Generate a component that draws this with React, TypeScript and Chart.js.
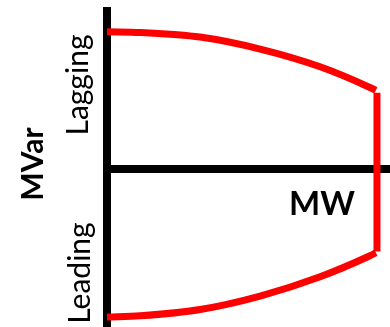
import React, { useEffect, useRef } from "react";
import { Chart, registerables } from "chart.js";

Chart.register(...registerables);

// Capability curve data (per-unit)
const mwCurve = [0, 0.117, 0.329, 0.541, 0.753, 0.929, 0.95];
const mvarLagging = [0.869, 0.864, 0.835, 0.759, 0.647, 0.516, 0.497];
const mvarLeading = [-0.937, -0.929, -0.889, -0.804, -0.682, -0.549, -0.53];
const mwLimit = [0.954, 0.954];
const mvarLimit = [0.483, -0.522];

const axisTitleX = "MW";
const axisTitleY = "MVar";
const upperLabel = "Lagging";
const lowerLabel = "Leading";

const toPoints = (xs: number[], ys: number[]) => xs.map((x, i) => ({ x, y: ys[i] }));

const labelPlugin = {
  id: "capLabels",
  afterDraw(chart: any) {
    const ctx = chart.ctx as CanvasRenderingContext2D;
    ctx.save();
    ctx.fillStyle = "#000";
    ctx.textAlign = "center";
    ctx.textBaseline = "alphabetic";
    const rot = (text: string, x: number, y: number, font: string) => {
      ctx.save();
      ctx.translate(x, y);
      ctx.rotate(-Math.PI / 2);
      ctx.font = font;
      ctx.fillText(text, 0, 0);
      ctx.restore();
    };
    rot(upperLabel, 88, 85, "30px Lato");
    rot(lowerLabel, 90, 273, "30px Lato");
    rot(axisTitleY, 43, 164, "bold 30px Lato");
    ctx.font = "bold 33px Lato";
    ctx.fillText(axisTitleX, 322, 215);
    ctx.restore();
  },
};

export default function App() {
  const ref = useRef<HTMLCanvasElement>(null);
  useEffect(() => {
    if (!ref.current) return;
    const red = "#ff0000";
    const common = {
      borderColor: red,
      borderWidth: 7,
      pointRadius: 0,
      borderCapStyle: "butt" as const,
      fill: false,
      clip: false as any,
    };
    const chart = new Chart(ref.current, {
      type: "line",
      data: {
        datasets: [
          { ...common, data: toPoints(mwCurve, mvarLagging), cubicInterpolationMode: "monotone" },
          { ...common, data: toPoints(mwLimit, mvarLimit) },
          { ...common, data: toPoints(mwCurve, mvarLeading), cubicInterpolationMode: "monotone" },
        ],
      },
      options: {
        animation: false,
        responsive: false,
        layout: { padding: { left: 107, top: 11, right: 0, bottom: 0 } },
        plugins: { legend: { display: false }, tooltip: { enabled: false } },
        scales: {
          x: {
            type: "linear",
            min: 0,
            max: 1,
            position: { y: 0 } as any,
            grid: { display: false, drawTicks: false },
            ticks: { display: false },
            border: { display: true, color: "#000", width: 8 },
          },
          y: {
            type: "linear",
            min: -1,
            max: 1,
            position: { x: 0 } as any,
            grid: { display: false, drawTicks: false },
            ticks: { display: false },
            border: { display: true, color: "#000", width: 8 },
          },
        },
      },
      plugins: [labelPlugin],
    });
    return () => chart.destroy();
  }, []);
  return (
    <div style={{ position: "fixed", left: 0, top: 0, width: 390, height: 327, background: "#fff" }}>
      <canvas ref={ref} width={390} height={327} style={{ display: "block" }} />
    </div>
  );
}
